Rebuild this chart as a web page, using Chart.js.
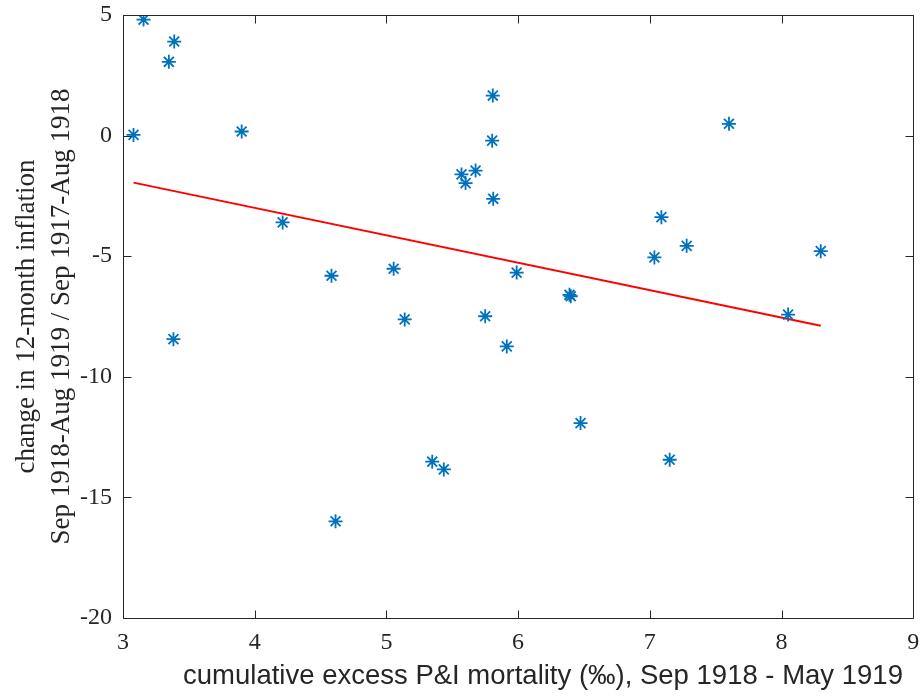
<!DOCTYPE html>
<html>
<head>
<meta charset="utf-8">
<script src="https://cdn.jsdelivr.net/npm/chart.js@4/dist/chart.umd.min.js"></script>
<style>
  html, body { margin: 0; padding: 0; background: #ffffff; }
  #wrap { width: 922px; height: 696px; }
</style>
</head>
<body>
<div id="wrap"><canvas id="c" width="922" height="696"></canvas></div>
<script>
// ---- data ----
const mortality = [3.156, 3.389, 3.348, 3.080, 3.901, 5.808, 5.803, 5.677, 5.570, 5.601,
                   5.811, 4.212, 4.583, 5.055, 5.139, 5.989, 5.750, 5.914, 7.088, 7.280,
                   7.035, 8.298, 6.390, 6.400, 8.050, 7.601, 3.383, 5.348, 5.436, 4.614,
                   6.474, 7.151];
const inflationChange = [4.81, 3.90, 3.06, 0.03, 0.17, 1.66, -0.21, -1.45, -1.61, -1.97,
                         -2.62, -3.60, -5.81, -5.52, -7.62, -5.68, -7.49, -8.74, -3.38, -4.57,
                         -5.05, -4.79, -6.60, -6.66, -7.42, 0.49, -8.44, -13.52, -13.84, -15.99,
                         -11.92, -13.44];
const fitX = [3.080, 8.298];
const fitY = [-1.95, -7.88];
const xTicks = [3, 4, 5, 6, 7, 8, 9];
const yTicks = [-20, -15, -10, -5, 0, 5];
const xTitle = 'cumulative excess P&I mortality (\u2030), Sep 1918 - May 1919';
const yTitle = ['change in 12-month inflation', 'Sep 1918-Aug 1919 / Sep 1917-Aug 1918'];

const points = mortality.map((v, i) => ({ x: v, y: inflationChange[i] }));
const fitLine = fitX.map((v, i) => ({ x: v, y: fitY[i] }));

const AX = '#262626';

const boxTicks = {
  id: 'boxTicks',
  afterDatasetsDraw(chart) {
    const { ctx, chartArea: a, scales: { x, y } } = chart;
    ctx.save();
    ctx.strokeStyle = AX;
    ctx.lineWidth = 1;
    const L = Math.round(a.left) + 0.5, R = Math.round(a.right) + 0.5;
    const T = Math.round(a.top) + 0.5, B = Math.round(a.bottom) + 0.5;
    ctx.beginPath();
    ctx.rect(L, T, R - L, B - T);
    const tl = 8;
    xTicks.forEach(v => {
      const px = Math.round(x.getPixelForValue(v)) + 0.5;
      ctx.moveTo(px, B); ctx.lineTo(px, B - tl);
      ctx.moveTo(px, T); ctx.lineTo(px, T + tl);
    });
    yTicks.forEach(v => {
      const py = Math.round(y.getPixelForValue(v)) + 0.5;
      ctx.moveTo(L, py); ctx.lineTo(L + tl, py);
      ctx.moveTo(R, py); ctx.lineTo(R - tl, py);
    });
    ctx.stroke();
    // x-axis title
    ctx.fillStyle = AX;
    ctx.font = '27.5px "Liberation Sans", Arial, sans-serif';
    ctx.textAlign = 'center';
    ctx.textBaseline = 'middle';
    ctx.fillText(xTitle, 543, 676);
    ctx.restore();
  }
};

new Chart(document.getElementById('c'), {
  type: 'scatter',
  data: {
    datasets: [
      {
        label: 'data',
        data: points,
        pointStyle: 'star',
        pointRadius: 7,
        pointHoverRadius: 7,
        pointBorderWidth: 1.8,
        borderColor: '#0072BD',
        backgroundColor: '#0072BD',
        showLine: false,
        order: 1
      },
      {
        label: 'fit',
        data: fitLine,
        showLine: true,
        borderColor: '#FF0000',
        backgroundColor: '#FF0000',
        borderWidth: 2,
        pointRadius: 0,
        pointHoverRadius: 0,
        order: 2
      }
    ]
  },
  options: {
    responsive: false,
    animation: false,
    devicePixelRatio: 1,
    layout: { padding: { top: 15, right: 7, left: 0, bottom: 0 } },
    plugins: { legend: { display: false }, tooltip: { enabled: false } },
    scales: {
      x: {
        type: 'linear',
        min: 3, max: 9,
        afterBuildTicks: s => { s.ticks = xTicks.map(v => ({ value: v })); },
        afterFit: s => { s.height = 78; s.paddingLeft = 0; s.paddingRight = 0; },
        grid: { display: false, drawTicks: false, tickLength: 0 },
        border: { display: false },
        ticks: {
          autoSkip: false, maxRotation: 0, padding: 10,
          color: AX,
          font: { family: '"Liberation Serif", "Times New Roman", serif', size: 24 }
        },
        title: { display: false }
      },
      y: {
        type: 'linear',
        min: -20, max: 5,
        afterBuildTicks: s => { s.ticks = yTicks.map(v => ({ value: v })); },
        afterFit: s => { s.width = 123; s.paddingTop = 0; s.paddingBottom = 0; },
        grid: { display: false, drawTicks: false, tickLength: 0 },
        border: { display: false },
        ticks: {
          padding: 11,
          color: AX,
          font: { family: '"Liberation Serif", "Times New Roman", serif', size: 24 }
        },
        title: {
          display: true,
          text: yTitle,
          color: AX,
          font: { family: '"Liberation Serif", "Times New Roman", serif', size: 27, lineHeight: 1.3 },
          padding: { top: 9.5, bottom: 0 }
        }
      }
    }
  },
  plugins: [boxTicks]
});
</script>
</body>
</html>
